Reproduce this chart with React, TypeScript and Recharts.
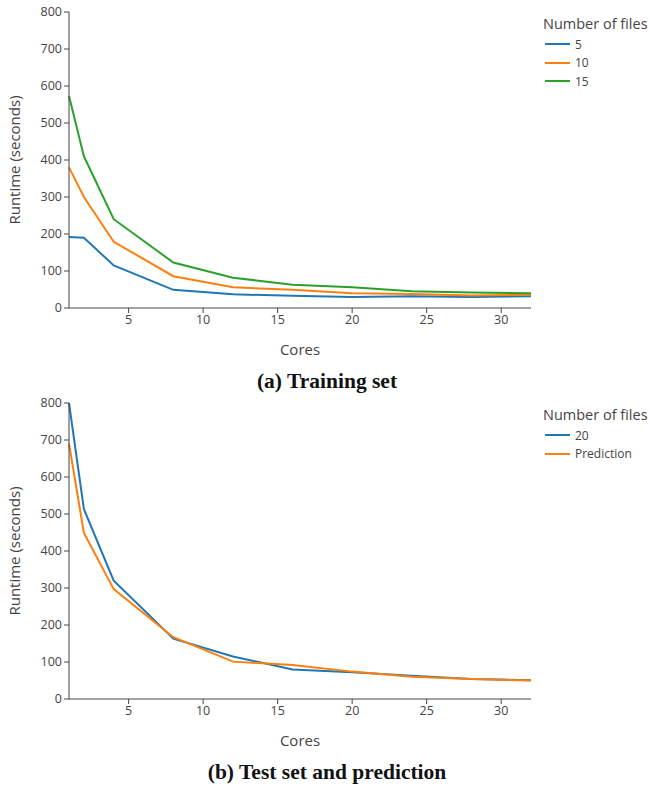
import { LineChart, Line, XAxis, YAxis } from "recharts";

const cores = [1, 2, 4, 8, 12, 16, 20, 24, 28, 32];

// training set runtimes (seconds)
const files5 = [192, 190, 115, 49, 37, 33, 30, 32, 30, 32];
const files10 = [380, 300, 179, 86, 56, 49, 40, 38, 34, 36];
const files15 = [573, 410, 240, 123, 82, 63, 56, 45, 42, 40];

// test set and prediction
const files20 = [800, 513, 320, 163, 115, 80, 72, 63, 54, 51];
const prediction = [690, 449, 297, 167, 101, 92, 74, 60, 54, 50];

const xTicks = [5, 10, 15, 20, 25, 30];
const yTicks = [0, 100, 200, 300, 400, 500, 600, 700, 800];

const trainData = cores.map((c, i) => ({
  cores: c,
  f5: files5[i],
  f10: files10[i],
  f15: files15[i],
}));

const testData = cores.map((c, i) => ({
  cores: c,
  f20: files20[i],
  pred: prediction[i],
}));

const FONT = "'Open Sans', sans-serif";
const AXIS = "#444";

type Series = { key: string; label: string; color: string };

function LegendBox({ items, top }: { items: Series[]; top: number }) {
  return (
    <div style={{ position: "absolute", left: 543, top, fontFamily: FONT, color: AXIS }}>
      <div style={{ fontSize: 14.5, lineHeight: "20px", marginBottom: 1 }}>Number of files</div>
      {items.map((it) => (
        <div
          key={it.label}
          style={{ display: "flex", alignItems: "center", height: 18.5, fontSize: 12 }}
        >
          <span
            style={{
              display: "inline-block",
              width: 25,
              height: 2,
              background: it.color,
              marginLeft: 2,
              marginRight: 5,
            }}
          />
          {it.label}
        </div>
      ))}
    </div>
  );
}

function Panel({ data, series }: { data: any[]; series: Series[] }) {
  return (
    <LineChart width={650} height={360} data={data} margin={{ top: 12, right: 119, bottom: 0, left: 0 }}>
      <XAxis
        dataKey="cores"
        type="number"
        domain={[1, 32]}
        ticks={xTicks}
        height={52}
        stroke={AXIS}
        tickSize={5}
        tick={{ fill: AXIS, fontSize: 12.5, fontFamily: FONT }}
        label={{
          value: "Cores",
          position: "insideBottom",
          offset: 5,
          style: { fill: AXIS, fontSize: 15, fontFamily: FONT },
        }}
      />
      <YAxis
        domain={[0, 800]}
        ticks={yTicks}
        width={69}
        stroke={AXIS}
        tickSize={5}
        tick={{ fill: AXIS, fontSize: 12.5, fontFamily: FONT }}
        label={{
          value: "Runtime (seconds)",
          angle: -90,
          position: "insideLeft",
          offset: 15,
          style: { fill: AXIS, fontSize: 15, fontFamily: FONT, textAnchor: "middle" },
        }}
      />
      {series.map((s) => (
        <Line
          key={s.key}
          dataKey={s.key}
          name={s.label}
          stroke={s.color}
          strokeWidth={2}
          dot={false}
          type="linear"
          isAnimationActive={false}
        />
      ))}
    </LineChart>
  );
}

const captionStyle: React.CSSProperties = {
  position: "absolute",
  left: 0,
  width: 654,
  textAlign: "center",
  fontFamily: "'Liberation Serif', serif",
  fontWeight: "bold",
  fontSize: 21.5,
  lineHeight: "24px",
  color: "#111",
};

const trainSeries: Series[] = [
  { key: "f5", label: "5", color: "#1f77b4" },
  { key: "f10", label: "10", color: "#ff7f0e" },
  { key: "f15", label: "15", color: "#2ca02c" },
];

const testSeries: Series[] = [
  { key: "f20", label: "20", color: "#1f77b4" },
  { key: "pred", label: "Prediction", color: "#ff7f0e" },
];

export default function App() {
  return (
    <div style={{ position: "absolute", left: 0, top: 0, width: 650, height: 788, background: "#fff" }}>
      <div style={{ position: "absolute", left: 0, top: 0 }}>
        <Panel data={trainData} series={trainSeries} />
      </div>
      <LegendBox items={trainSeries} top={14} />
      <div style={{ ...captionStyle, top: 369 }}>(a) Training set</div>
      <div style={{ position: "absolute", left: 0, top: 391 }}>
        <Panel data={testData} series={testSeries} />
      </div>
      <LegendBox items={testSeries} top={405} />
      <div style={{ ...captionStyle, top: 760 }}>(b) Test set and prediction</div>
    </div>
  );
}
